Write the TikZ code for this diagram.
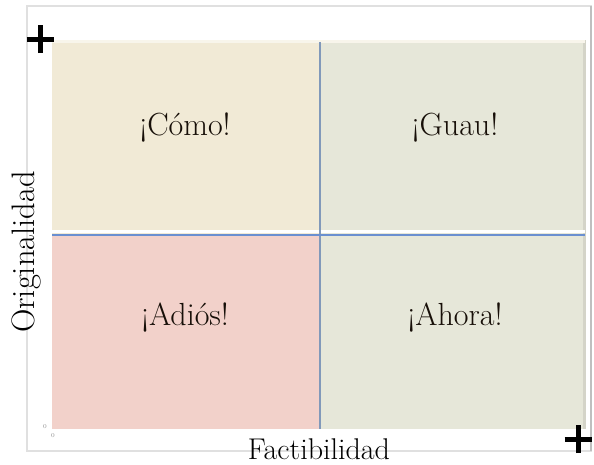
\documentclass[tikz,border=0pt]{standalone}
\begin{document}
\begin{tikzpicture}[x=1pt,y=-1pt,
  qlabel/.style={font=\fontsize{32}{34}\selectfont,text=black!88!brown},
  axislabel/.style={text=black,inner sep=1pt},
  plussign/.style={line width=5pt,black},
  tiny/.style={font=\fontsize{6}{6}\selectfont,text=black!45,inner sep=0pt}]
\useasboundingbox (0,0) rectangle (594,464);
\definecolor{beige}{HTML}{F1EAD6}
\definecolor{sage}{HTML}{E6E7D9}
\definecolor{rose}{HTML}{F2D1CA}
\definecolor{hline}{HTML}{6A8FD0}
\definecolor{vline}{HTML}{8199BA}
% outer frame
\draw[draw=black!12,line width=1.5pt] (27,6) rectangle (591,451);
\draw[draw=black!25,line width=1.2pt] (591,6) -- (591,451);
% quadrants
\fill[beige] (52,40) rectangle (320,235);
\fill[sage] (320,40) rectangle (585,235);
\fill[rose] (52,235) rectangle (320,429);
\fill[sage] (320,235) rectangle (585,429);
\fill[black!8!sage] (583,40) rectangle (586,429);
\fill[white!50!beige] (52,40) rectangle (585,43);
% divider coordinates
\coordinate (vtop) at (320,42);
\coordinate (vbot) at (320,429);
\coordinate (hleft) at (52,235);
\coordinate (hright) at (585,235);
\draw[white,line width=3pt] (52,231) -- (585,231);
\draw[vline,line width=2pt] (vtop) -- (vbot);
\draw[hline,line width=2pt] (hleft) -- (hright);
% labels
\node[qlabel] (como) at (185,128) {¡Cómo!};
\node[qlabel] (guau) at (455,128) {¡Guau!};
\node[qlabel] (adios) at (185,318) {¡Adiós!};
\node[qlabel] (ahora) at (455,318) {¡Ahora!};
\node[axislabel,font=\fontsize{32.5}{34}\selectfont,rotate=90] (orig) at (26,252) {Originalidad};
\node[axislabel,font=\fontsize{30}{32}\selectfont,anchor=base,inner sep=0pt] (fact) at (319,459) {Factibilidad};
% small zeros
\node[tiny] (z1) at (45,427) {0};
\node[tiny] (z2) at (53,436) {0};
% plus signs
\coordinate (p1c) at (40,39);
\coordinate (p2c) at (578,439);
\draw[plussign] ([xshift=-13.5pt]p1c) -- ([xshift=13.5pt]p1c);
\draw[plussign] ([yshift=-14pt]p1c) -- ([yshift=14pt]p1c);
\draw[plussign] ([xshift=-13.5pt]p2c) -- ([xshift=13.5pt]p2c);
\draw[plussign] ([yshift=-14pt]p2c) -- ([yshift=14pt]p2c);
\end{tikzpicture}
\end{document}
